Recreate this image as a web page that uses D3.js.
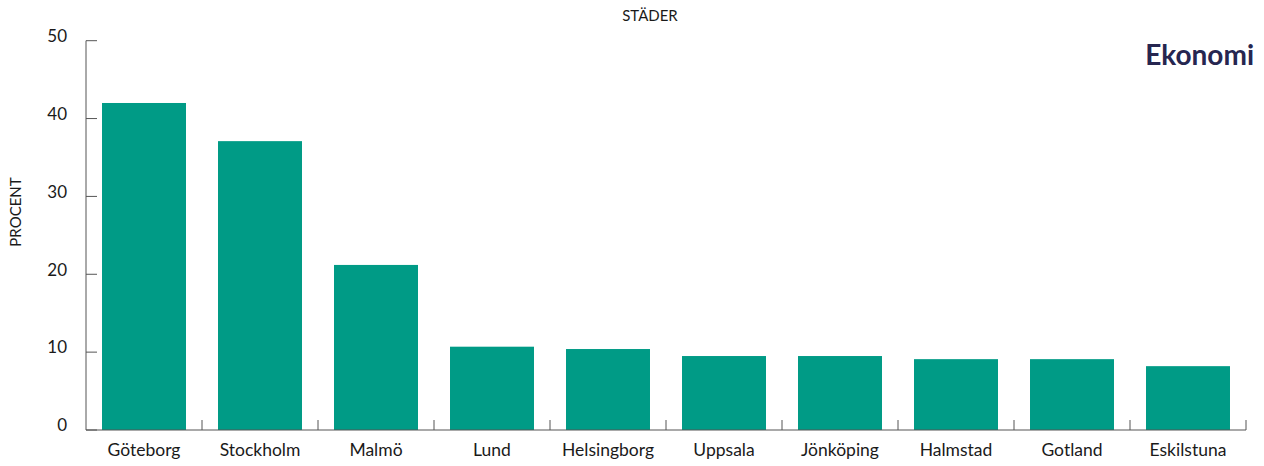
<!DOCTYPE html>
<html>
<head>
<meta charset="utf-8">
<script src="https://cdn.jsdelivr.net/npm/d3@7"></script>
<style>
  body { margin: 0; background: #fff; }
  text { font-family: Lato, "Open Sans", sans-serif; fill: #1a1a1a; }
</style>
</head>
<body>
<div id="chart"></div>
<script>
var cities = ["Göteborg", "Stockholm", "Malmö", "Lund", "Helsingborg", "Uppsala", "Jönköping", "Halmstad", "Gotland", "Eskilstuna"];
var values = [42.0, 37.1, 21.2, 10.7, 10.4, 9.5, 9.5, 9.1, 9.1, 8.2];
var yTicks = [0, 10, 20, 30, 40, 50];

var width = 1264;
var height = 466;
var plotLeft = 86, plotRight = 1246, plotTop = 40.7, plotBottom = 430;

var svg = d3.select("#chart").append("svg")
    .attr("width", width)
    .attr("height", height);

var x = d3.scaleBand()
    .domain(cities)
    .range([plotLeft, plotRight])
    .paddingInner(0.276)
    .paddingOuter(0.138);

var y = d3.scaleLinear()
    .domain([0, 50])
    .range([plotBottom, plotTop]);

// bars
svg.append("g")
    .selectAll("rect")
    .data(values)
    .join("rect")
    .attr("x", function(d, i) { return x(cities[i]); })
    .attr("y", d => y(d))
    .attr("width", x.bandwidth())
    .attr("height", d => y(0) - y(d))
    .attr("fill", "#009b86");

// y axis
var yAxis = svg.append("g");
yAxis.append("line")
    .attr("x1", plotLeft).attr("x2", plotLeft)
    .attr("y1", y(50)).attr("y2", y(0))
    .attr("stroke", "#555").attr("stroke-width", 1);
yAxis.selectAll("line.tick")
    .data(yTicks)
    .join("line")
    .attr("class", "tick")
    .attr("x1", plotLeft).attr("x2", plotLeft + 11)
    .attr("y1", d => y(d)).attr("y2", d => y(d))
    .attr("stroke", "#555");
yAxis.selectAll("text")
    .data(yTicks)
    .join("text")
    .attr("x", 67)
    .attr("y", d => y(d) - 3)
    .attr("text-anchor", "end")
    .attr("dominant-baseline", "middle")
    .style("font-size", "17px")
    .text(d => d);

// x axis
var xAxis = svg.append("g");
xAxis.append("line")
    .attr("x1", plotLeft).attr("x2", plotRight)
    .attr("y1", plotBottom).attr("y2", plotBottom)
    .attr("stroke", "#555");
var step = x.step();
xAxis.selectAll("line.tick")
    .data(cities)
    .join("line")
    .attr("class", "tick")
    .attr("x1", d => x(d) - x.paddingOuter() * step + step)
    .attr("x2", d => x(d) - x.paddingOuter() * step + step)
    .attr("y1", plotBottom).attr("y2", plotBottom - 10)
    .attr("stroke", "#555");
xAxis.selectAll("text")
    .data(cities)
    .join("text")
    .attr("x", d => x(d) + x.bandwidth() / 2)
    .attr("y", 452)
    .attr("text-anchor", "middle")
    .attr("dominant-baseline", "middle")
    .style("font-size", "17.5px")
    .text(d => d);

// titles
svg.append("text")
    .attr("x", 650)
    .attr("y", 17)
    .attr("text-anchor", "middle")
    .attr("dominant-baseline", "middle")
    .style("font-size", "15px")
    .text("STÄDER");

svg.append("text")
    .attr("transform", "translate(17,212) rotate(-90)")
    .attr("text-anchor", "middle")
    .attr("dominant-baseline", "middle")
    .style("font-size", "15px")
    .text("PROCENT");

svg.append("text")
    .attr("x", 1254)
    .attr("y", 58)
    .attr("text-anchor", "end")
    .attr("dominant-baseline", "middle")
    .style("font-size", "28px")
    .style("font-weight", "bold")
    .style("fill", "#262650")
    .text("Ekonomi");
</script>
</body>
</html>
